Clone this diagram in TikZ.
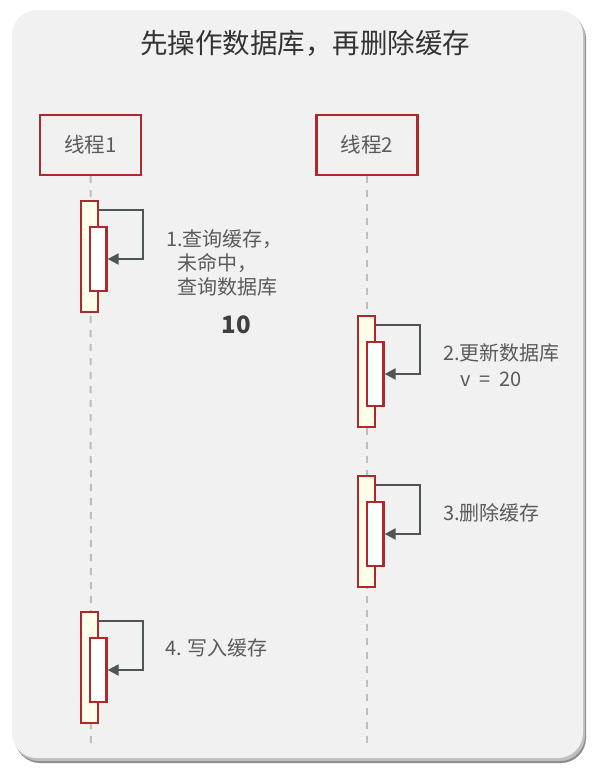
\documentclass[tikz,border=0pt]{standalone}
\usepackage{fontspec}
\setmainfont{Noto Sans CJK SC}
\usetikzlibrary{arrows.meta}
\definecolor{cardbg}{HTML}{F1F1F1}
\definecolor{lineRed}{HTML}{AE2A2A}
\definecolor{actFill}{HTML}{FFFEE8}
\definecolor{msgGray}{HTML}{4D5555}
\definecolor{txtGray}{HTML}{5A5A5A}
\definecolor{lifeGray}{HTML}{BDBDBD}
\tikzset{
  threadbox/.style={draw=lineRed, line width=2.2pt, fill=cardbg, minimum width=101pt, minimum height=60pt, inner sep=0pt, text=txtGray, font=\fontsize{20.5}{24}\selectfont},
  outerbar/.style={draw=lineRed, line width=2.2pt, fill=actFill, minimum width=17.5pt, minimum height=111pt, inner sep=0pt},
  innerbar/.style={draw=lineRed, line width=2.2pt, fill=white, minimum width=16.5pt, minimum height=64pt, inner sep=0pt},
  lifeline/.style={draw=lifeGray, line width=2pt, dash pattern=on 7pt off 7pt},
  msg/.style={draw=msgGray, line width=2.2pt, -{Triangle[length=11pt,width=11pt]}},
  lbl/.style={anchor=west, inner sep=0pt, text=txtGray, font=\fontsize{20}{24}\selectfont}
}
\begin{document}
\begin{tikzpicture}[x=1pt,y=-1pt]
\useasboundingbox (0,0) rectangle (600,780);
% card with shadow
\fill[black!45, rounded corners=25pt] (15,14) rectangle (586,763);
\fill[black!25, rounded corners=25pt] (14,12) rectangle (585,761);
\fill[cardbg, rounded corners=25pt] (12,10) rectangle (583,758);
% title
\node[text=black!80, font=\fontsize{27.5}{32}\selectfont, inner sep=0pt] (title) at (305,43) {先操作数据库，再删除缓存};
% threads
\node[threadbox] (t1) at (90.5,145) {线程1};
\node[threadbox] (t2) at (367,145) {线程2};
\coordinate (e1) at (91,745);
\coordinate (e2) at (367,745);
\draw[lifeline] (t1.south) -- (e1);
\draw[lifeline] (t2.south) -- (e2);
% activation 1
\node[outerbar] (a1) at (89.5,256.3) {};
\node[innerbar] (b1) at (98.3,258.7) {};
\coordinate (c1) at (142.7,210);
\draw[msg] (a1.east |- c1) -- (c1) |- (b1.east |- 0,259);
\node[lbl] (l1a) at (166,239) {1.查询缓存，};
\node[lbl] (l1b) at (177,263) {未命中，};
\node[lbl] (l1c) at (177,287) {查询数据库};
\node[inner sep=0pt, text=black!75, font=\fontsize{24}{28}\selectfont\bfseries] (v10) at (236,325) {10};
% activation 2
\node[outerbar] (a2) at (366.5,371.3) {};
\node[innerbar] (b2) at (375.3,373.8) {};
\coordinate (c2) at (420,325);
\draw[msg] (a2.east |- c2) -- (c2) |- (b2.east |- 0,374);
\node[lbl] (l2a) at (443,353) {2.更新数据库};
\node[lbl] (l2b) at (460,379) {v\hspace{0.45em}=\hspace{0.45em}20};
% activation 3
\node[outerbar] (a3) at (366.5,531.3) {};
\node[innerbar] (b3) at (375.3,533.8) {};
\coordinate (c3) at (420,485);
\draw[msg] (a3.east |- c3) -- (c3) |- (b3.east |- 0,534);
\node[lbl] (l3) at (443,513) {3.删除缓存};
% activation 4
\node[outerbar] (a4) at (89.5,667.2) {};
\node[innerbar] (b4) at (98.3,669.7) {};
\coordinate (c4) at (142.7,621);
\draw[msg] (a4.east |- c4) -- (c4) |- (b4.east |- 0,670);
\node[lbl] (l4) at (165,648) {4. 写入缓存};
\end{tikzpicture}
\end{document}
